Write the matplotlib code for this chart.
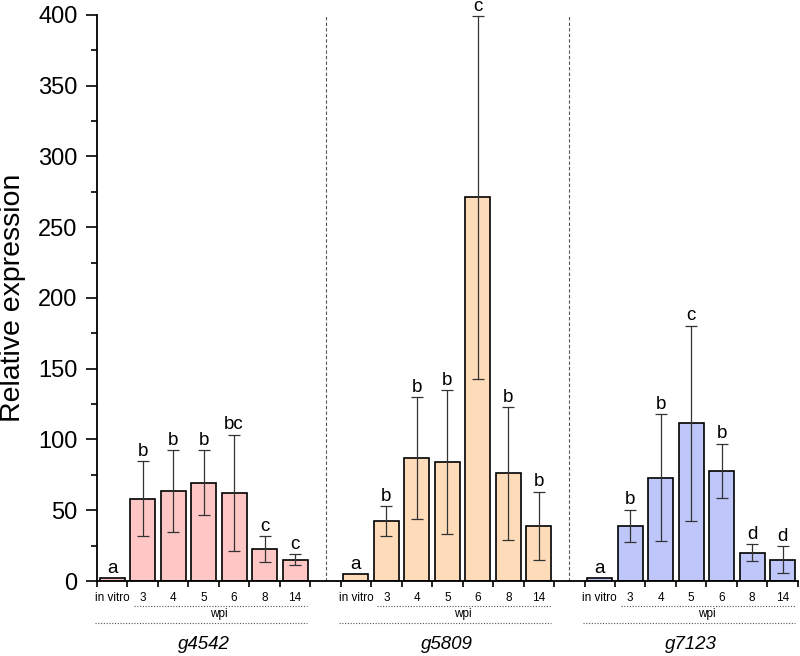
import matplotlib
matplotlib.use('Agg')
import matplotlib.pyplot as plt
import numpy as np

plt.rcParams['font.family'] = ['Liberation Sans', 'DejaVu Sans']

categories = ["in vitro", "3", "4", "5", "6", "8", "14"]
genes = ["g4542", "g5809", "g7123"]

g4542_mean = [2, 58, 63.5, 69.5, 62.5, 22.5, 15]
g4542_sd = [0, 26.5, 29, 23, 41, 9, 4]
g4542_letters = ["a", "b", "b", "b", "bc", "c", "c"]

g5809_mean = [5, 42.5, 87, 84, 271, 76, 39]
g5809_sd = [0, 10.5, 43, 51, 128, 47, 24]
g5809_letters = ["a", "b", "b", "b", "c", "b", "b"]

g7123_mean = [2, 39, 73, 111.5, 78, 20, 15]
g7123_sd = [0, 11.5, 45, 69, 19, 6, 9.5]
g7123_letters = ["a", "b", "b", "c", "b", "d", "d"]

colors = ['#ffc6c6', '#ffdcb9', '#bec6fa']

means = [g4542_mean, g5809_mean, g7123_mean]
sds = [g4542_sd, g5809_sd, g7123_sd]
letters = [g4542_letters, g5809_letters, g7123_letters]

fig = plt.figure(figsize=(8, 6.56), dpi=100)
ax = fig.add_axes([0.12125, 0.1143, 0.876, 0.863])

n = len(categories)
centers = []
labels = []
for g in range(3):
    start = g * (n + 1)
    x = np.arange(n) + start
    ax.bar(x, means[g], width=0.82, color=colors[g], edgecolor='black', linewidth=1.2, zorder=2)
    ax.errorbar(x[1:], means[g][1:], yerr=sds[g][1:], fmt='none', ecolor='#333333',
                elinewidth=0.9, capsize=4, capthick=0.9, zorder=3)
    for xi, m, s, t in zip(x, means[g], sds[g], letters[g]):
        ax.annotate(t, (xi, m + s), xytext=(0, 1), textcoords='offset points',
                    ha='center', va='bottom', fontsize=13.5)
    centers.extend(x)
    labels.extend(categories)

    tr = ax.get_xaxis_transform()
    ax.plot([start + 0.7, start + 6.4], [-0.0436, -0.0436], transform=tr, clip_on=False,
            color='#555555', lw=0.8, ls=(0, (1, 1.5)))
    ax.text(start + 3.5, -0.0583, 'wpi', transform=tr, ha='center', va='center', fontsize=8.5)
    ax.plot([start - 0.55, start + 6.4], [-0.0742, -0.0742], transform=tr, clip_on=False,
            color='#555555', lw=0.8, ls=(0, (1, 1.5)))
    ax.text(start + 3, -0.113, genes[g], transform=tr, ha='center', va='center',
            fontsize=13.5, style='italic')

for sep in [n, 2 * n + 1]:
    ax.axvline(sep, color='#555555', lw=0.8, ls=(0, (3, 2)), zorder=1)

ax.set_xlim(-0.5, 3 * n + 1.5)
ax.set_ylim(0, 400)

ax.set_xticks(np.arange(-0.5, 3 * n + 2, 1.0))
ax.set_xticklabels([])
ax.set_xticks(centers, minor=True)
ax.set_xticklabels(labels, minor=True, fontsize=8.5)
ax.tick_params(axis='x', which='major', direction='out', length=4, width=1.2)
ax.tick_params(axis='x', which='minor', length=0, pad=8)

ax.set_yticks(np.arange(0, 401, 50))
ax.set_yticks(np.arange(25, 400, 50), minor=True)
ax.tick_params(axis='y', which='major', direction='out', length=8, width=1.2, labelsize=17, pad=6)
ax.tick_params(axis='y', which='minor', direction='out', length=4, width=1.2)

ax.set_ylabel('Relative expression', fontsize=20.5)
ax.yaxis.set_label_coords(-0.101, 0.5)

for side in ['top', 'right']:
    ax.spines[side].set_visible(False)
for side in ['left', 'bottom']:
    ax.spines[side].set_linewidth(1.3)

fig.savefig('out.png', dpi=100)
